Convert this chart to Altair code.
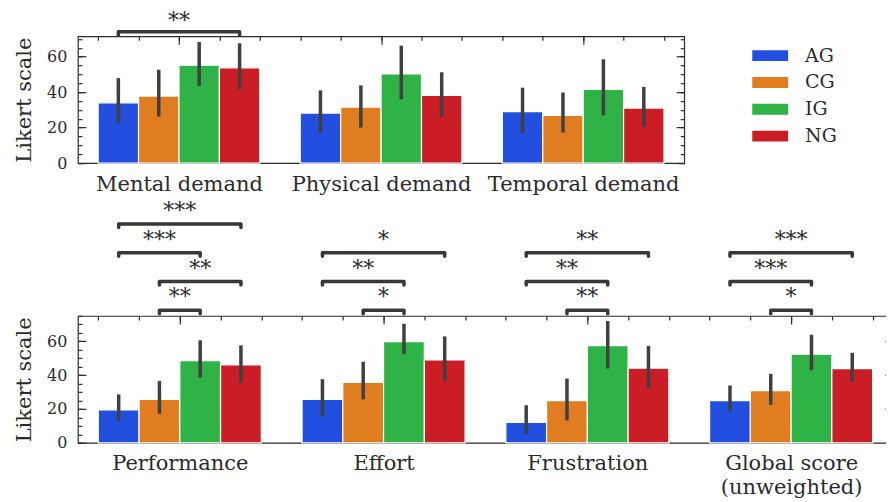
import json
import altair as alt
import pandas as pd

FONT = "DejaVu Serif"
TXT = "#2b2b2b"
FRAME = "#2b2b2b"

groups = ["AG", "CG", "IG", "NG"]
colors = ["#224fdf", "#df7d20", "#30b346", "#cb1d25"]

# ---- top panel ----
top_categories = ["Mental demand", "Physical demand", "Temporal demand"]
top_mean_AG = [34.0, 28.2, 29.0]
top_mean_CG = [37.8, 31.6, 26.9]
top_mean_IG = [55.2, 50.3, 41.5]
top_mean_NG = [53.7, 38.1, 31.0]
top_lo_AG = [22.4, 17.2, 16.6]
top_hi_AG = [47.9, 41.0, 42.5]
top_lo_CG = [26.2, 20.0, 17.2]
top_hi_CG = [52.6, 43.8, 39.8]
top_lo_IG = [43.4, 35.9, 26.9]
top_hi_IG = [68.3, 66.2, 58.5]
top_lo_NG = [41.5, 26.0, 20.3]
top_hi_NG = [67.5, 51.2, 43.0]

top_sig_cat = [0]
top_sig_a = ["AG"]
top_sig_b = ["NG"]
top_sig_stars = ["**"]
top_sig_level = [0]

# ---- bottom panel ----
bot_categories = ["Performance", "Effort", "Frustration", "Global score\n(unweighted)"]
bot_mean_AG = [19.4, 25.7, 12.0, 24.9]
bot_mean_CG = [25.7, 35.7, 24.9, 30.8]
bot_mean_IG = [48.5, 59.8, 57.5, 52.4]
bot_mean_NG = [46.1, 49.0, 44.1, 43.9]
bot_lo_AG = [12.9, 15.5, 5.3, 18.5]
bot_hi_AG = [28.6, 37.6, 22.2, 33.9]
bot_lo_CG = [17.1, 25.7, 13.2, 22.4]
bot_hi_CG = [36.5, 47.9, 38.0, 40.8]
bot_lo_IG = [38.5, 52.4, 43.9, 42.9]
bot_hi_IG = [60.6, 70.4, 72.0, 63.9]
bot_lo_NG = [35.5, 36.7, 32.2, 36.1]
bot_hi_NG = [57.6, 62.9, 57.3, 53.2]

bot_sig_cat = [0, 0, 0, 0, 1, 1, 1, 2, 2, 2, 3, 3, 3]
bot_sig_a = ["CG", "CG", "AG", "AG", "CG", "AG", "AG", "CG", "AG", "AG", "CG", "AG", "AG"]
bot_sig_b = ["IG", "NG", "IG", "NG", "IG", "IG", "NG", "IG", "IG", "NG", "IG", "IG", "NG"]
bot_sig_stars = ["**", "**", "***", "***", "*", "**", "*", "**", "**", "**", "*", "***", "***"]
bot_sig_level = [0, 1, 2, 3, 0, 1, 2, 0, 1, 2, 0, 1, 2]

BAR_W = 0.2


def hue_off(g):
    return (groups.index(g) - 1.5) * BAR_W


def bar_table(means, los, his):
    rows = []
    for g in groups:
        for i, (m, lo, hi) in enumerate(zip(means[g], los[g], his[g])):
            rows.append({"ci": i, "group": g, "gi": groups.index(g), "mean": m, "lo": lo, "hi": hi})
    return pd.DataFrame(rows)


def sig_tables(cats, a, b, stars, levels, ymax, gap, step, tick):
    lines, texts = [], []
    for k, (c, ga, gb, s, lv) in enumerate(zip(cats, a, b, stars, levels)):
        xa = c + hue_off(ga)
        xb = c + hue_off(gb)
        y = ymax + gap + step * lv
        for o, (xx, yy) in enumerate([(xa, y - tick), (xa, y), (xb, y), (xb, y - tick)]):
            lines.append({"id": k, "ord": o, "x": xx, "y": yy})
        texts.append({"x": (xa + xb) / 2, "y": y, "stars": s})
    return pd.DataFrame(lines), pd.DataFrame(texts)


def panel(cats, df, lines, texts, ymax, width, height, show_legend, star_dy):
    n = len(cats)
    xdom = [-0.5, n - 0.5]
    xs = alt.Scale(domain=xdom, nice=False, zero=False)
    ys = alt.Scale(domain=[0, ymax], nice=False, zero=True)
    minor_x = [round(-0.4 + 0.2 * k, 6) for k in range(5 * n)]
    major_x = list(range(n))
    major_y = [0, 20, 40, 60]
    minor_y = list(range(0, int(ymax) + 1, 5))

    label_expr = "split(" + json.dumps(cats) + "[datum.value], '\\n')"

    common = dict(domain=False, grid=False, title=None, tickColor=FRAME, tickWidth=1.2)

    ax_bottom = alt.Axis(orient="bottom", values=major_x, labelExpr=label_expr, ticks=False,
                         domain=False, grid=False, title=None, labelFont=FONT, labelFontSize=21,
                         labelColor=TXT, labelPadding=10, labelOverlap=False, labelFlush=False,
                         labelLineHeight=24, labelBaseline="top", labelLimit=0)
    ax_top_minor = alt.Axis(orient="top", values=minor_x, labels=False, tickSize=4, offset=-4, **common)
    ax_top_major = alt.Axis(orient="top", values=major_x, labels=False, tickSize=8, offset=-8, **common)

    ay_left = alt.Axis(orient="left", values=major_y, tickSize=8, offset=-8, domain=False, grid=False,
                       tickColor=FRAME, tickWidth=1.2, labelFont=FONT, labelFontSize=16,
                       labelColor=TXT, labelPadding=11, title="Likert scale", titleFont=FONT,
                       titleFontSize=21, titleFontWeight="normal", titleColor=TXT, titlePadding=12,
                       labelFlush=False)
    ay_left_minor = alt.Axis(orient="left", values=minor_y, labels=False, tickSize=4, offset=-4, **common)
    ay_right = alt.Axis(orient="right", values=major_y, labels=False, tickSize=8, offset=-8, **common)
    ay_right_minor = alt.Axis(orient="right", values=minor_y, labels=False, tickSize=4, offset=-4, **common)

    if show_legend:
        legend = alt.Legend(title=None, orient="none", legendX=675, legendY=9.5,
                            symbolType="M-1,-0.3L1,-0.3L1,0.3L-1,0.3Z", symbolSize=1296,
                            clipHeight=20, rowPadding=6.8, labelOffset=17, labelFont=FONT,
                            labelFontSize=19, labelColor=TXT, padding=0, symbolStrokeWidth=0,
                            symbolOpacity=1)
    else:
        legend = None

    base = alt.Chart(df).transform_calculate(
        xc="datum.ci + (datum.gi - 1.5) * %s" % BAR_W,
        x0="datum.ci + (datum.gi - 1.5) * %s - %s" % (BAR_W, BAR_W / 2),
        x1="datum.ci + (datum.gi - 1.5) * %s + %s" % (BAR_W, BAR_W / 2),
    )

    bars = base.mark_bar(stroke="white", strokeWidth=1.2, clip=False).encode(
        x=alt.X("x0:Q", scale=xs, axis=ax_bottom),
        x2="x1:Q",
        y=alt.Y("mean:Q", scale=ys, axis=ay_left),
        y2=alt.datum(0),
        color=alt.Color("group:N", scale=alt.Scale(domain=groups, range=colors), legend=legend),
    )

    errs = base.mark_rule(color="#404040", strokeWidth=3.5, clip=False).encode(
        x=alt.X("xc:Q", scale=xs, axis=ax_top_minor),
        y=alt.Y("lo:Q", scale=ys, axis=ay_left_minor),
        y2="hi:Q",
    )

    brk = alt.Chart(lines).mark_line(color="#383838", strokeWidth=3.5, strokeCap="round",
                                     strokeJoin="round", clip=False).encode(
        x=alt.X("x:Q", scale=xs, axis=ax_top_major),
        y=alt.Y("y:Q", scale=ys, axis=ay_right),
        detail="id:N",
        order="ord:Q",
    )

    txt = alt.Chart(texts).mark_text(font=FONT, fontSize=22, color=TXT, dy=star_dy,
                                     baseline="alphabetic", align="center", clip=False).encode(
        x=alt.X("x:Q", scale=xs, axis=None),
        y=alt.Y("y:Q", scale=ys, axis=ay_right_minor),
        text="stars:N",
    )

    return alt.layer(bars, errs, brk, txt).resolve_scale(x="shared", y="shared").resolve_axis(
        x="independent", y="independent").properties(width=width, height=height)


top_df = bar_table({"AG": top_mean_AG, "CG": top_mean_CG, "IG": top_mean_IG, "NG": top_mean_NG},
                   {"AG": top_lo_AG, "CG": top_lo_CG, "IG": top_lo_IG, "NG": top_lo_NG},
                   {"AG": top_hi_AG, "CG": top_hi_CG, "IG": top_hi_IG, "NG": top_hi_NG})
bot_df = bar_table({"AG": bot_mean_AG, "CG": bot_mean_CG, "IG": bot_mean_IG, "NG": bot_mean_NG},
                   {"AG": bot_lo_AG, "CG": bot_lo_CG, "IG": bot_lo_IG, "NG": bot_lo_NG},
                   {"AG": bot_hi_AG, "CG": bot_hi_CG, "IG": bot_hi_IG, "NG": bot_hi_NG})

TOP_MAX = 71.5
BOT_MAX = 75.0
top_lines, top_texts = sig_tables(top_sig_cat, top_sig_a, top_sig_b, top_sig_stars, top_sig_level,
                                  TOP_MAX, 2.6, 16.5, 2.0)
bot_lines, bot_texts = sig_tables(bot_sig_cat, bot_sig_a, bot_sig_b, bot_sig_stars, bot_sig_level,
                                  BOT_MAX, 3.3, 17.0, 2.0)

top = panel(top_categories, top_df, top_lines, top_texts, TOP_MAX, 607, 127, True, -4)
bottom = panel(bot_categories, bot_df, bot_lines, bot_texts, BOT_MAX, 816, 127, False, -6)

chart = alt.vconcat(top, bottom, spacing=153, bounds="flush").resolve_scale(
    x="independent", y="independent", color="independent"
).resolve_legend(color="independent").properties(
    padding={"left": 5, "top": 0, "right": -9, "bottom": 0}, background="white"
).configure_view(stroke=FRAME, strokeWidth=1.2)

chart.save("out.html", embed_options={"renderer": "svg", "actions": False})
